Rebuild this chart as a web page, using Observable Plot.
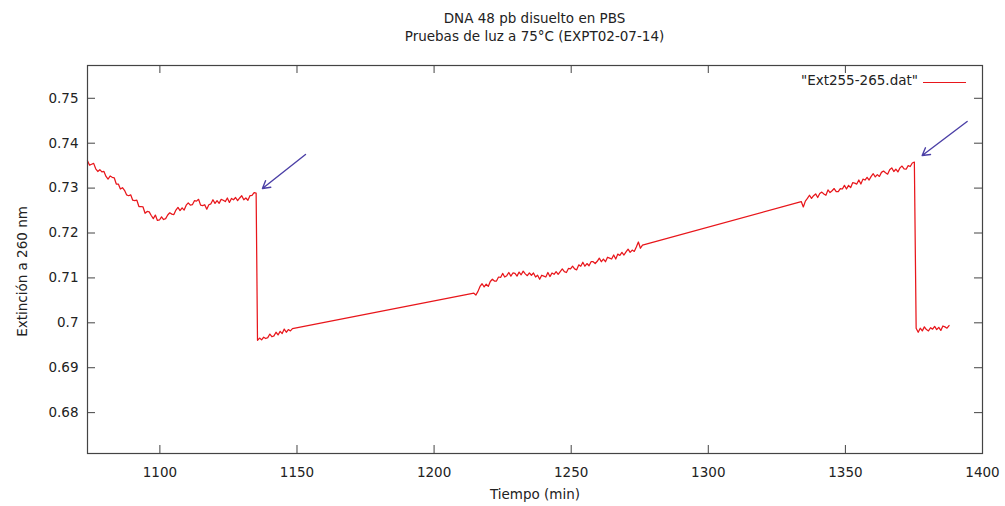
<!DOCTYPE html>
<html>
<head>
<meta charset="utf-8">
<script src="https://cdn.jsdelivr.net/npm/d3@7"></script>
<script src="https://cdn.jsdelivr.net/npm/@observablehq/plot@0.6"></script>
<style>
  html, body { margin: 0; padding: 0; background: #fff; }
  #wrap { position: relative; width: 1005px; height: 506px; font-family: "DejaVu Sans", sans-serif; color: #222; }
  #title { position: absolute; left: 87px; width: 895px; top: 9px; text-align: center; font-size: 13.5px; line-height: 18px; }
  #legend { position: absolute; right: 87px; top: 72px; font-size: 13.5px; line-height: 16px; white-space: nowrap; }
  #legendLine { position: absolute; left: 923px; width: 43px; top: 82px; height: 0; border-top: 1px solid #e8161b; }
  #chart { position: absolute; left: 0; top: 0; }
</style>
</head>
<body>
<div id="wrap">
  <div id="chart"></div>
  <div id="title">DNA 48 pb disuelto en PBS<br>Pruebas de luz a 75°C (EXPT02-07-14)</div>
  <div id="legend">"Ext255-265.dat"</div>
  <div id="legendLine"></div>
</div>
<script>
// ---- data ----
const sampleStep = 0.75; // minutes between samples

const seg1Start = 1073.6;
const seg1Values = [
  0.7361,0.7351,0.7353,0.7355,0.7343,0.7337,0.7341,0.7336,0.7337,0.7326,
  0.7320,0.7327,0.7324,0.7323,0.7309,0.7309,0.7298,0.7301,0.7295,0.7285,
  0.7283,0.7285,0.7273,0.7272,0.7273,0.7259,0.7259,0.7258,0.7244,0.7248,
  0.7247,0.7239,0.7232,0.7240,0.7228,0.7229,0.7236,0.7230,0.7232,0.7240,
  0.7245,0.7242,0.7241,0.7251,0.7257,0.7250,0.7256,0.7251,0.7262,0.7267,
  0.7262,0.7263,0.7272,0.7271,0.7275,0.7262,0.7261,0.7263,0.7253,0.7263,
  0.7265,0.7274,0.7266,0.7272,0.7266,0.7275,0.7273,0.7270,0.7278,0.7268,
  0.7277,0.7274,0.7279,0.7272,0.7278,0.7283,0.7274,0.7278,0.7273,0.7283,
  0.7284,0.7290,0.7289
];

const seg2Start = 1135.6;
const seg2Values = [
  0.6961,0.6966,0.6962,0.6968,0.6965,0.6967,0.6975,0.6969,0.6971,0.6979,
  0.6973,0.6981,0.6976,0.6986,0.6979,0.6985,0.6982,0.6987
];

const seg3Start = 1214.5;
const seg3Values = [
  0.7066,0.7062,0.7070,0.7081,0.7087,0.7080,0.7086,0.7081,0.7092,0.7097,
  0.7093,0.7093,0.7102,0.7101,0.7110,0.7102,0.7105,0.7112,0.7104,0.7111,
  0.7110,0.7104,0.7113,0.7107,0.7115,0.7109,0.7105,0.7111,0.7106,0.7111,
  0.7102,0.7106,0.7097,0.7106,0.7104,0.7102,0.7112,0.7103,0.7111,0.7108,
  0.7114,0.7108,0.7114,0.7120,0.7114,0.7112,0.7121,0.7120,0.7126,0.7120,
  0.7118,0.7129,0.7126,0.7135,0.7126,0.7132,0.7127,0.7136,0.7136,0.7132,
  0.7137,0.7144,0.7136,0.7142,0.7136,0.7146,0.7144,0.7142,0.7151,0.7142,
  0.7153,0.7150,0.7157,0.7151,0.7158,0.7164,0.7157,0.7162,0.7159,0.7169,
  0.7180,0.7166,0.7173
];

const seg4Start = 1333.9;
const seg4Values = [
  0.7270,0.7258,0.7271,0.7277,0.7284,0.7277,0.7283,0.7287,0.7279,0.7288,
  0.7291,0.7287,0.7284,0.7296,0.7290,0.7294,0.7299,0.7292,0.7292,0.7299,
  0.7298,0.7306,0.7298,0.7306,0.7301,0.7312,0.7311,0.7309,0.7318,0.7309,
  0.7320,0.7318,0.7324,0.7318,0.7326,0.7332,0.7325,0.7330,0.7326,0.7335,
  0.7338,0.7334,0.7331,0.7341,0.7345,0.7337,0.7342,0.7336,0.7345,0.7349,
  0.7343,0.7342,0.7350,0.7348,0.7356,0.7358
];

const seg5Start = 1375.8;
const seg5Values = [
  0.6988,0.6979,0.6988,0.6982,0.6991,0.6985,0.6982,0.6989,0.6986,0.6992,
  0.6985,0.6990,0.6983,0.6993,0.6991,0.6988,0.6994
];

// annotation arrows (tail -> head, data units)
const arrowX1 = [1153.1, 1394.4];
const arrowY1 = [0.73747, 0.74482];
const arrowX2 = [1137.4, 1378.0];
const arrowY2 = [0.72991, 0.73725];

const xTicks = [1100, 1150, 1200, 1250, 1300, 1350, 1400];
const yTicks = [0.68, 0.69, 0.70, 0.71, 0.72, 0.73, 0.74, 0.75];

const xLabel = "Tiempo (min)";
const yLabel = "Extinción a 260 nm";

// ---- build table ----
const segments = [
  [seg1Start, seg1Values], [seg2Start, seg2Values], [seg3Start, seg3Values],
  [seg4Start, seg4Values], [seg5Start, seg5Values]
];
const series = segments.flatMap(([s, vals]) => vals.map((v, i) => ({t: s + i * sampleStep, v})));
const arrows = arrowX1.map((_, i) => ({x1: arrowX1[i], y1: arrowY1[i], x2: arrowX2[i], y2: arrowY2[i]}));

const W = 1005, H = 506, mL = 87, mR = 23, mT = 65, mB = 53;
const frameW = W - mL - mR, frameH = H - mT - mB;
const tickLen = 8;
const axisColor = "#444";
const fmtY = d => String(+d.toFixed(2));
const fmtX = d => String(d);
const fs = 13.5;

const chart = Plot.plot({
  width: W, height: H,
  marginLeft: mL, marginRight: mR, marginTop: mT, marginBottom: mB,
  style: {fontFamily: "DejaVu Sans, sans-serif", fontSize: fs + "px", color: "#222", background: "white"},
  x: {domain: [1073.6, 1400]},
  y: {domain: [0.6709, 0.7573]},
  marks: [
    Plot.line(series, {x: "t", y: "v", stroke: "#e8161b", strokeWidth: 1.25}),
    Plot.arrow(arrows, {x1: "x1", y1: "y1", x2: "x2", y2: "y2", stroke: "#4b3fa6", strokeWidth: 1.4, headLength: 9}),
    Plot.tickX(xTicks, {x: d => d, insetTop: frameH - tickLen, stroke: axisColor}),
    Plot.tickX(xTicks, {x: d => d, insetBottom: frameH - tickLen, stroke: axisColor}),
    Plot.tickY(yTicks, {y: d => d, insetRight: frameW - tickLen, stroke: axisColor}),
    Plot.tickY(yTicks, {y: d => d, insetLeft: frameW - tickLen, stroke: axisColor}),
    Plot.frame({stroke: axisColor, strokeWidth: 1.2}),
    Plot.axisX({ticks: xTicks, tickSize: 0, tickPadding: 14, tickFormat: fmtX, label: null, fontSize: fs}),
    Plot.axisY({ticks: yTicks, tickSize: 0, tickPadding: 9, tickFormat: fmtY, label: null, fontSize: fs}),
    Plot.text([xLabel], {frameAnchor: "bottom", dy: 45, text: d => d, fontSize: fs, fill: "#222"}),
    Plot.text([yLabel], {frameAnchor: "left", dx: -65, dy: 12, rotate: -90, textAnchor: "middle", text: d => d, fontSize: fs, fill: "#222"})
  ]
});
document.getElementById("chart").appendChild(chart);
</script>
</body>
</html>
